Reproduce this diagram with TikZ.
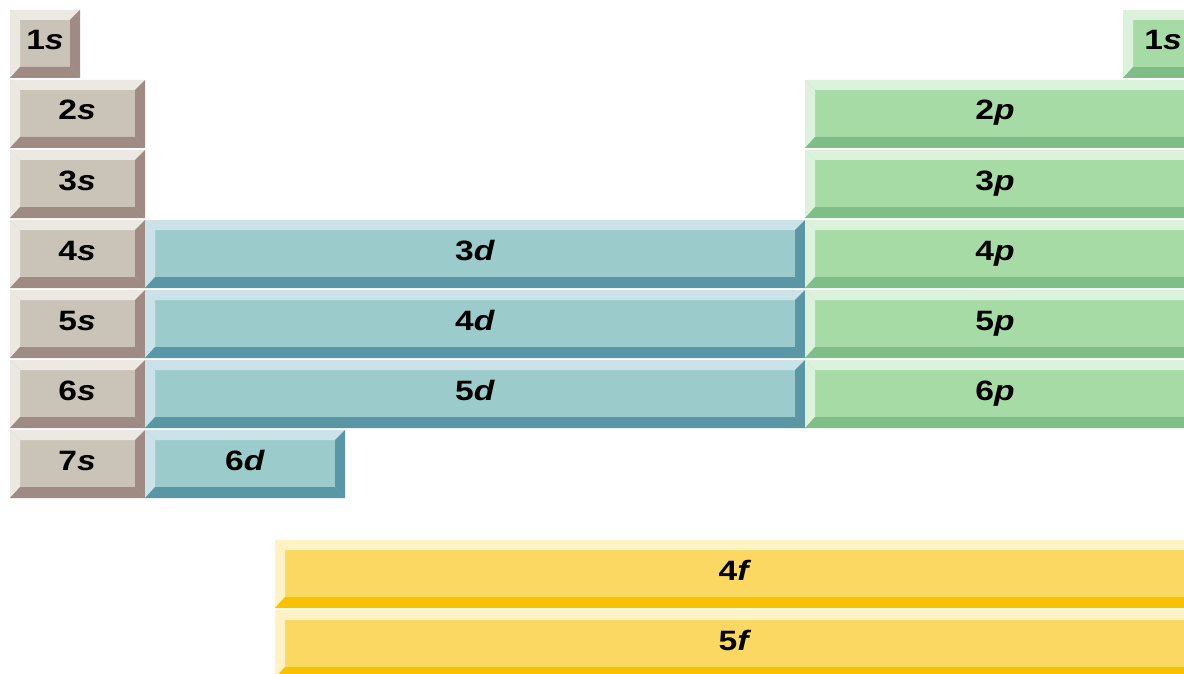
\documentclass[tikz,border=0pt]{standalone}
\usepackage{fontspec}
\usepackage{graphicx}
\setsansfont{Liberation Sans}
\definecolor{sface}{HTML}{CAC3B8}
\definecolor{slt}{HTML}{ECE8E2}
\definecolor{sdk}{HTML}{A08A84}
\definecolor{dface}{HTML}{9CCBCB}
\definecolor{dlt}{HTML}{CBE3E8}
\definecolor{ddk}{HTML}{5A97A6}
\definecolor{pface}{HTML}{A6DBA6}
\definecolor{plt}{HTML}{DCF2DC}
\definecolor{pdk}{HTML}{80BE88}
\definecolor{fface}{HTML}{FAD862}
\definecolor{flt}{HTML}{FFF3C6}
\definecolor{fdk}{HTML}{F8C200}
\tikzset{lbl/.style={inner sep=0pt, anchor=base, font=\sffamily\bfseries\fontsize{28}{30}\selectfont}}
\newcommand\lab[2]{\scalebox{1.2}[1]{#1\textit{#2}}}
% #1 name, #2 x1, #3 y1, #4 x2, #5 y2, #6 colour prefix, #7 digit, #8 letter, #9 label x
\newcommand\tile[9]{%
  \fill[#6face] (#2,#3) rectangle (#4,#5);
  \fill[#6lt] (#2,#3) -- (#4,#3) -- (#4-10,#3+10) -- (#2+10,#3+10) -- cycle;
  \fill[#6lt] (#2,#3) -- (#2+10,#3+10) -- (#2+10,#5-11) -- (#2,#5) -- cycle;
  \fill[#6dk] (#4,#3) -- (#4,#5) -- (#4-10,#5-11) -- (#4-10,#3+10) -- cycle;
  \fill[#6dk] (#2,#5) -- (#4,#5) -- (#4-10,#5-11) -- (#2+10,#5-11) -- cycle;
  \node[lbl] (#1) at (#9,#3+40) {\lab{#7}{#8}};
}
\begin{document}
\begin{tikzpicture}[x=1pt,y=-1pt]
\useasboundingbox (0,0) rectangle (1184,674);
\clip (0,0) rectangle (1184,674);
\fill[white] (0,0) rectangle (1184,674);
% s block
\tile{s1}{10}{10}{80}{78}{s}{1}{s}{45}
\tile{s2}{10}{80}{145}{148}{s}{2}{s}{77}
\tile{s3}{10}{150}{145}{218}{s}{3}{s}{77}
\tile{s4}{10}{220}{145}{288}{s}{4}{s}{77}
\tile{s5}{10}{290}{145}{358}{s}{5}{s}{77}
\tile{s6}{10}{360}{145}{428}{s}{6}{s}{77}
\tile{s7}{10}{430}{145}{498}{s}{7}{s}{77}
% d block
\tile{d3}{145}{220}{805}{288}{d}{3}{d}{475}
\tile{d4}{145}{290}{805}{358}{d}{4}{d}{475}
\tile{d5}{145}{360}{805}{428}{d}{5}{d}{475}
\tile{d6}{145}{430}{345}{498}{d}{6}{d}{245}
% p block
\tile{h1}{1123}{10}{1200}{78}{p}{1}{s}{1163}
\tile{p2}{805}{80}{1196}{148}{p}{2}{p}{995}
\tile{p3}{805}{150}{1196}{218}{p}{3}{p}{995}
\tile{p4}{805}{220}{1196}{288}{p}{4}{p}{995}
\tile{p5}{805}{290}{1196}{358}{p}{5}{p}{995}
\tile{p6}{805}{360}{1196}{428}{p}{6}{p}{995}
% f block
\tile{f4}{275}{540}{1196}{608}{f}{4}{f}{735}
\tile{f5}{275}{610}{1196}{678}{f}{5}{f}{735}
\end{tikzpicture}
\end{document}
